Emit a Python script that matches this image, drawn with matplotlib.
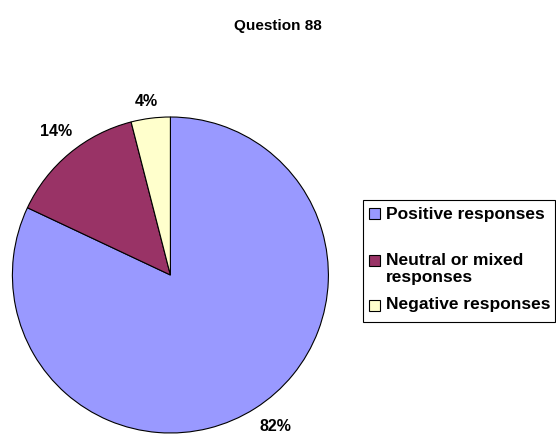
import math

import matplotlib.pyplot as plt
from matplotlib.patches import Rectangle

plt.rcParams["font.family"] = ["Liberation Sans", "DejaVu Sans"]
plt.rcParams["font.weight"] = "bold"

title = "Question 88"
categories = ["Positive responses", "Neutral or mixed\nresponses", "Negative responses"]
shares = [82, 14, 4]
colors = ["#9999FF", "#993366", "#FFFFCC"]

W, H = 556, 436
fig = plt.figure(figsize=(W / 100, H / 100), dpi=100)


def fx(x):
    return x / W


def fy(y):
    return 1 - y / H


# pie centre (170, 275) px, radius 158 px
cx, cy, r = 170.4, 275.0, 158.0
ax = fig.add_axes([fx(cx - r), fy(cy + r), 2 * r / W, 2 * r / H])
wedges, _, pct = ax.pie(
    shares,
    colors=colors,
    startangle=90,
    counterclock=False,
    autopct="%d%%",
    pctdistance=1.15,
    wedgeprops=dict(edgecolor="black", linewidth=0.8),
    textprops=dict(fontsize=11.5, fontweight="bold"),
)
ax.set_xlim(-1, 1)
ax.set_ylim(-1, 1)
ax.set_aspect("equal")
ax.axis("off")

# push each label out so its text box clears the rim
label_dist = [1.17, 1.16, 1.11]
label_turn = [2.3, -1.2, 0.8]
for txt, w, d, t in zip(pct, wedges, label_dist, label_turn):
    a = math.radians((w.theta1 + w.theta2) / 2 + t)
    txt.set_position((d * math.cos(a), d * math.sin(a)))
    txt.set_ha("center")
    txt.set_va("center")

fig.text(fx(278), fy(26), title, ha="center", va="center", fontsize=11, fontweight="bold")

# legend box drawn by hand
box_l, box_t, box_r, box_b = 363, 200, 555, 322
fig.add_artist(Rectangle((fx(box_l), fy(box_b)), fx(box_r - box_l), (box_b - box_t) / H,
                         transform=fig.transFigure, facecolor="white",
                         edgecolor="black", linewidth=0.8))
entry_y = [214, 269, 305]
sq = 11
for lab, col, y in zip(categories, colors, entry_y):
    sq_y = y - 9 if "\n" in lab else y
    fig.add_artist(Rectangle((fx(369), fy(sq_y + sq / 2)), sq / W, sq / H,
                             transform=fig.transFigure, facecolor=col,
                             edgecolor="black", linewidth=0.8))
    fig.text(fx(386), fy(y), lab, ha="left", va="center", fontsize=12.5,
             fontweight="bold", linespacing=1.12)

fig.savefig("out.png", dpi=100)
